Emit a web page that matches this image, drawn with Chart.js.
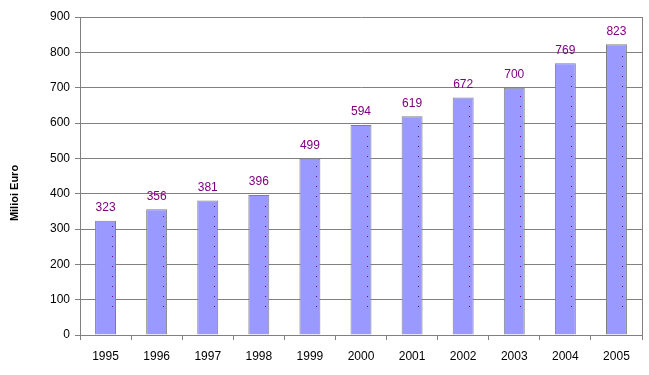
<!DOCTYPE html>
<html>
<head>
<meta charset="utf-8">
<script src="https://cdn.jsdelivr.net/npm/chart.js@4/dist/chart.umd.min.js"></script>
<style>
  body { margin: 0; background: #fff; }
  #wrap { width: 649px; height: 375px; }
</style>
</head>
<body>
<div id="wrap"><canvas id="myChart" width="649" height="375"></canvas></div>
<script>
var years = ['1995', '1996', '1997', '1998', '1999', '2000', '2001', '2002', '2003', '2004', '2005'];
var values = [323, 356, 381, 396, 499, 594, 619, 672, 700, 769, 823];
var yTicks = [0, 100, 200, 300, 400, 500, 600, 700, 800, 900];
var yTitle = 'Milioi Euro';

// value labels, the dotted line inside each bar, the plot frame and the axis title
var barExtras = {
  id: 'barExtras',
  afterDatasetsDraw: function (chart) {
    var ctx = chart.ctx;
    var meta = chart.getDatasetMeta(0);
    ctx.save();
    meta.data.forEach(function (bar, i) {
      ctx.fillStyle = '#800080';
      for (var y = bar.base - 29; y > bar.y + 4; y -= 10) {
        ctx.fillRect(Math.round(bar.x + 6), Math.round(y), 1, 1);
      }
      ctx.font = '12px "Liberation Sans", Arial, sans-serif';
      ctx.textAlign = 'center';
      ctx.textBaseline = 'bottom';
      ctx.fillText(values[i], bar.x, bar.y - 7);
    });
    var a = chart.chartArea;
    ctx.strokeStyle = '#808080';
    ctx.lineWidth = 1;
    ctx.beginPath();
    ctx.moveTo(Math.round(a.right) + 0.5, a.top);
    ctx.lineTo(Math.round(a.right) + 0.5, a.bottom);
    ctx.stroke();

    ctx.translate(15, 193);
    ctx.rotate(-Math.PI / 2);
    ctx.fillStyle = '#000';
    ctx.font = 'bold 11px "Liberation Sans", Arial, sans-serif';
    ctx.textAlign = 'center';
    ctx.textBaseline = 'middle';
    ctx.fillText(yTitle, 0, 0);
    ctx.restore();
  }
};

var myChart = new Chart(document.getElementById('myChart').getContext('2d'), {
  type: 'bar',
  data: {
    labels: years,
    datasets: [{
      data: values,
      backgroundColor: '#9999ff',
      borderColor: '#808080',
      borderWidth: 1,
      barPercentage: 0.41,
      categoryPercentage: 1
    }]
  },
  options: {
    responsive: false,
    animation: false,
    layout: { padding: { top: 17, right: 7, left: 0, bottom: 0 } },
    plugins: {
      legend: { display: false },
      tooltip: { enabled: false }
    },
    scales: {
      x: {
        afterFit: function (s) { s.height = 40; },
        grid: { offset: true, drawOnChartArea: false, color: '#808080', tickLength: 5 },
        border: { color: '#808080' },
        ticks: { color: '#000', font: { size: 12, family: '"Liberation Sans", Arial, sans-serif' }, padding: 9 }
      },
      y: {
        min: 0,
        max: 900,
        afterFit: function (s) { s.width = 80; },
        afterBuildTicks: function (s) { s.ticks = yTicks.map(function (v) { return { value: v }; }); },
        grid: { color: '#808080', tickLength: 5 },
        border: { color: '#808080' },
        ticks: { color: '#000', font: { size: 12, family: '"Liberation Sans", Arial, sans-serif' }, padding: 5 }
      }
    }
  },
  plugins: [barExtras]
});
</script>
</body>
</html>
